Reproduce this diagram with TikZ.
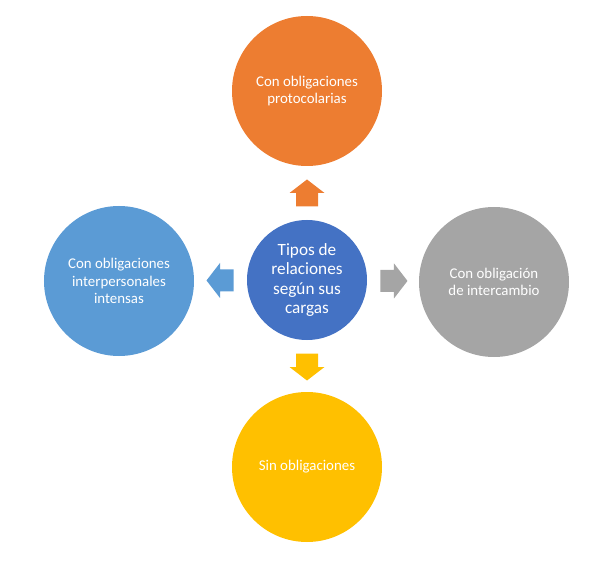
\documentclass[tikz,border=0pt]{standalone}
\usepackage{fontspec}
\setmainfont{Carlito}
\usetikzlibrary{calc}

\definecolor{centerblue}{HTML}{4472C4}
\definecolor{toporange}{HTML}{ED7D31}
\definecolor{sideblue}{HTML}{5B9BD5}
\definecolor{sidegray}{HTML}{A5A5A5}
\definecolor{bottomgold}{HTML}{FFC000}

\begin{document}
\begin{tikzpicture}[x=0.75pt, y=0.75pt,
        hub/.style={circle, fill=centerblue, text=white, minimum size=90pt, inner sep=0pt,
            align=center, font=\fontsize{12.9}{14.3}\selectfont},
        leaf/.style={circle, fill=#1, text=white, minimum size=112.5pt, inner sep=0pt,
            align=center, font=\fontsize{11.15}{13.1}\selectfont}]
        \useasboundingbox (-307,-280) rectangle (292,280);

        % Center circle
        \node[hub] (center) at (0,0) {Tipos de\\relaciones\\según sus\\cargas};

        % Outer circles
        \node[leaf=toporange] (top) at (0,189) {Con obligaciones\\protocolarias};
        \node[leaf=sideblue] (left) at (-188,-1) {Con obligaciones\\interpersonales\\intensas};
        \node[leaf=sidegray] (right) at (187,-2) {Con obligación\\de intercambio};
        \node[leaf=bottomgold] (bottom) at (0,-187) {Sin obligaciones};

        % Arrows
        \foreach \target/\ang/\col in {top/90/toporange, left/180/sideblue, right/0/sidegray, bottom/270/bottomgold}
            \fill[\col, shift={($(center)!65.25pt!(\target)$)}, rotate=\ang]
                (-13.5,-11) -- (0,-11) -- (0,-17.5) -- (13.5,0) -- (0,17.5) -- (0,11) -- (-13.5,11) -- cycle;
    \end{tikzpicture}
\end{document}
